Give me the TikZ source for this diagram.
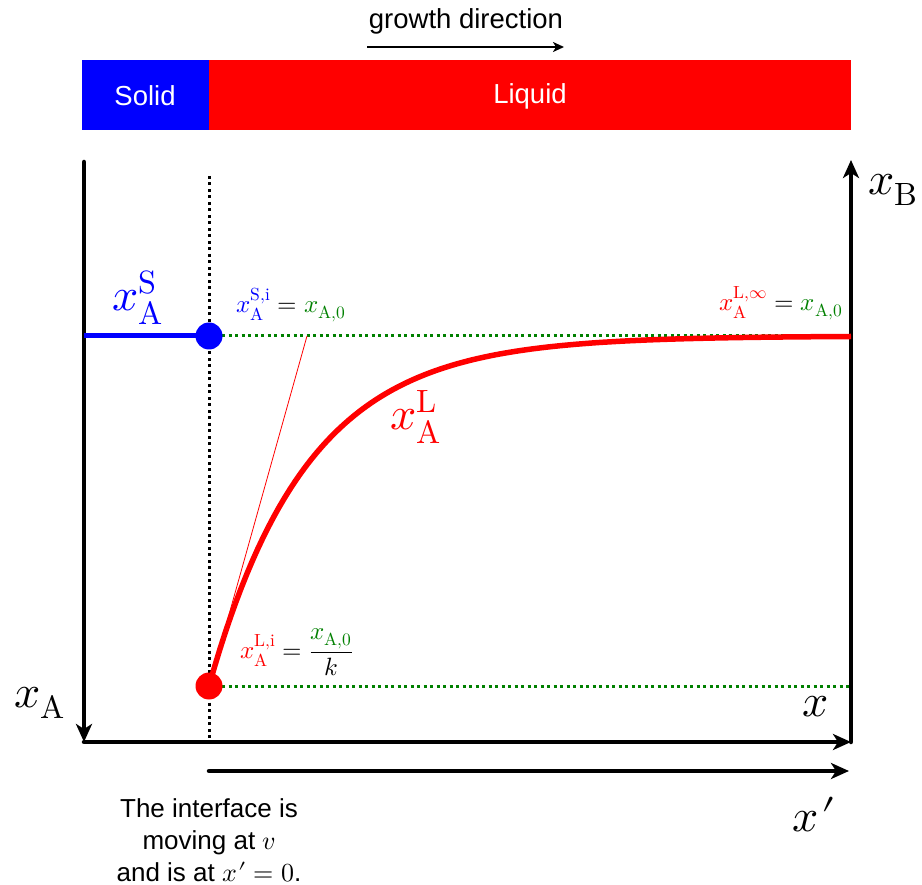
\documentclass[tikz,border=0pt]{standalone}
\usepackage{fontspec}
\usepackage{unicode-math}
\setmainfont{Liberation Sans}
\setmathfont{Latin Modern Math}
\usetikzlibrary{arrows.meta}
\definecolor{dgreen}{RGB}{0,128,0}
\definecolor{pblue}{RGB}{0,0,255}
\definecolor{pred}{RGB}{255,0,0}
\begin{document}
\begin{tikzpicture}[x=1pt,y=-1pt,
  axis/.style={line width=4.5pt,line cap=round,-{Stealth[length=18pt,width=16pt,inset=5pt]}},
  greendot/.style={dgreen,line width=3pt,dash pattern=on 3pt off 3.5pt},
  bigm/.style={font=\fontsize{46}{50}\selectfont},
  smallm/.style={font=\fontsize{25}{30}\selectfont},
  txt/.style={font=\fontsize{27.5}{33}\selectfont},
  notetxt/.style={font=\fontsize{26}{32}\selectfont}]
\useasboundingbox (0,0) rectangle (922,885);
% bar
\node[draw=none,fill=pblue,minimum width=127pt,minimum height=70pt,inner sep=0,anchor=north west] (solid) at (82,60) {};
\node[draw=none,fill=pred,minimum width=642pt,minimum height=70pt,inner sep=0,anchor=north west] (liquid) at (209,60) {};
\node[txt,text=white] (solidtxt) at (145,96) {Solid};
\node[txt,text=white] (liquidtxt) at (530,96) {Liquid};
\node[txt] (growth) at (466,21) {growth direction};
\coordinate (g1) at (367,47);
\coordinate (g2) at (564,47);
\draw[line width=2pt,-{Stealth[length=11pt,width=10pt,inset=3pt]}] (g1) -- (g2);
% coordinates
\coordinate (tl) at (84,162);
\coordinate (bl) at (84,742);
\coordinate (br) at (851,742);
\coordinate (tr) at (851,160);
\coordinate (xp1) at (209,771);
\coordinate (xp2) at (849,771);
\coordinate (d1) at (209,176);
\coordinate (d2) at (209,742);
\coordinate (gt1) at (209,336);
\coordinate (gt2) at (851,336);
\coordinate (gb1) at (209,686);
\coordinate (gb2) at (851,686);
\coordinate (bs) at (84,336);
% dotted lines
\draw[line width=3pt,dash pattern=on 3pt off 3.5pt] (d1) -- (d2);
\draw[greendot] (gt1) -- (gt2);
\draw[greendot] (gb1) -- (gb2);
% axes
\draw[axis] (tl) -- (bl);
\draw[axis] (bl) -- (br);
\draw[axis] (br) -- (tr);
\draw[axis] (xp1) -- (xp2);
% solid line
\draw[pblue,line width=5pt] (bs) -- (gt1);
% tangent
\coordinate (tan) at (307,336);
\draw[pred,line width=0.8pt] (gb1) -- (tan);
% curve
\draw[pred,line width=5.5pt] plot[domain=0:642,samples=120] ({209+\x},{686-350*(1-exp(-\x/98))});
% dots
\node[circle,fill=pblue,minimum size=27pt,inner sep=0] (bdot) at (gt1) {};
\node[circle,fill=pred,minimum size=27pt,inner sep=0] (rdot) at (gb1) {};
% labels
\node[bigm,text=pblue] (xAS) at (138,298) {$x_{\symup{A}}^{\symup{S}}$};
\node[smallm,anchor=west] (xASi) at (233,305) {$\color{pblue}x_{\symup{A}}^{\symup{S,i}}\color{black}=\color{dgreen}x_{\symup{A,0}}$};
\node[smallm,anchor=east] (xALinf) at (846,303) {$\color{pred}x_{\symup{A}}^{\symup{L},\infty}\color{black}=\color{dgreen}x_{\symup{A,0}}$};
\node[bigm,text=pred] (xAL) at (416,417) {$x_{\symup{A}}^{\symup{L}}$};
\node[smallm,anchor=west] (xALi) at (237,652) {$\displaystyle\color{pred}x_{\symup{A}}^{\symup{L,i}}\color{black}=\frac{\color{dgreen}x_{\symup{A,0}}}{k}$};
\node[bigm] (xB) at (893,190) {$x_{\symup{B}}$};
\node[bigm] (xA) at (40,703) {$x_{\symup{A}}$};
\node[bigm] (xx) at (816,707) {$x$};
\node[bigm] (xprime) at (814,815) {$x\mkern1mu\prime$};
\node[notetxt,align=center] (note) at (209,840) {The interface is\\moving at $v$\\and is at $x\mkern1mu\prime=0$.};
\end{tikzpicture}
\end{document}
